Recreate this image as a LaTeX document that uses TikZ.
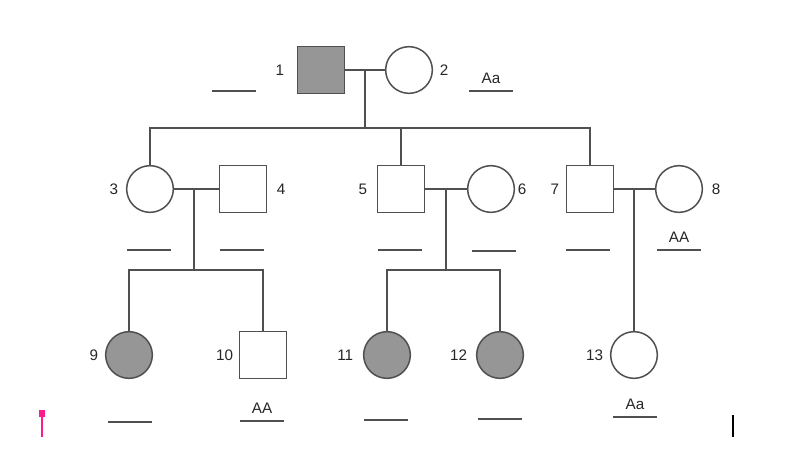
\documentclass[tikz,border=0pt]{standalone}
\usepackage{fontspec}
\setmainfont{Liberation Sans}
\usetikzlibrary{calc,positioning}
\definecolor{linec}{HTML}{505050}
\definecolor{shade}{HTML}{969696}
\definecolor{pinkmark}{HTML}{FF1A8C}
\tikzset{
  person/.style={draw=linec,line width=0.45mm,minimum size=14mm,inner sep=0pt,outer sep=0pt},
  male/.style={person,rectangle,fill=white},
  female/.style={person,circle,fill=white},
  aff/.style={fill=shade},
  lab/.style={font=\fontsize{13}{15}\selectfont,text=black!85,inner sep=0pt},
  geno/.style={font=\fontsize{13}{15}\selectfont,text=black!85,minimum width=12.9mm,inner xsep=0pt,inner ysep=2.1mm,
    text height=1.6ex,text depth=0pt,anchor=south,
    append after command={(\tikzlastnode.south west) edge[draw=linec,line width=0.45mm] (\tikzlastnode.south east)}},
  link/.style={draw=linec,line width=0.45mm}
}
\begin{document}
\begin{tikzpicture}[x=0.3mm,y=-0.3mm]
\useasboundingbox (0,0) rectangle (800,454);
% generation I
\node[male,aff,label={[lab,label distance=4mm]left:1}] (n1) at (321,70) {};
\node[female,label={[lab,label distance=2.2mm]right:2}] (n2) at (409,70) {};
% generation II
\node[female,label={[lab,label distance=2.5mm]left:3}] (n3) at (150,189) {};
\node[male,label={[lab,label distance=3.1mm]right:4}] (n4) at (243,189) {};
\node[male,label={[lab,label distance=3.1mm]left:5}] (n5) at (401,189) {};
\node[female,label={[lab,label distance=1mm]right:6}] (n6) at (491,189) {};
\node[male,label={[lab,label distance=2.2mm]left:7}] (n7) at (590,189) {};
\node[female,label={[lab,label distance=2.8mm]right:8}] (n8) at (679,189) {};
% generation III
\node[female,aff,label={[lab,label distance=2.2mm]left:9}] (n9) at (129,355) {};
\node[male,label={[lab,label distance=1.9mm]left:10}] (n10) at (263,355) {};
\node[female,aff,label={[lab,label distance=3.1mm]left:11}] (n11) at (387,355) {};
\node[female,aff,label={[lab,label distance=2.8mm]left:12}] (n12) at (500,355) {};
\node[female,label={[lab,label distance=2.2mm]left:13}] (n13) at (634,355) {};
% genotype blanks
\node[geno] (g1) at (234,91) {};
\node[geno] (g2) at (491,91) {Aa};
\node[geno] (g3) at (149,250) {};
\node[geno] (g4) at (242,250) {};
\node[geno] (g5) at (400,250) {};
\node[geno] (g6) at (494,251) {};
\node[geno] (g7) at (588,250) {};
\node[geno] (g8) at (679,250) {AA};
\node[geno] (g9) at (130,422) {};
\node[geno] (g10) at (262,421) {AA};
\node[geno] (g11) at (386,420) {};
\node[geno] (g12) at (500,419) {};
\node[geno] (g13) at (635,417) {Aa};
% matings and descent
\coordinate (m12) at ($(n1.east)!0.5!(n2.west)$);
\coordinate (m34) at ($(n3.east)!0.45!(n4.west)$);
\coordinate (m56) at ($(n5.east)!0.5!(n6.west)$);
\coordinate (m78) at (n13.north |- n7.east);
\coordinate (s12) at (m12 |- 0,128);
\coordinate (s34) at (m34 |- 0,270);
\coordinate (s56) at (m56 |- 0,270);
\draw[link] (n1) -- (n2);
\draw[link] (n3) -- (n4);
\draw[link] (n5) -- (n6);
\draw[link] (n7) -- (n8);
\draw[link] (m12) -- (s12);
\draw[link] (n3.north) |- (s12) -| (n7.north);
\draw[link] (n5.north) -- (n5.north |- s12);
\draw[link] (m34) -- (s34);
\draw[link] (n9.north) |- (s34) -| (n10.north);
\draw[link] (m56) -- (s56);
\draw[link] (n11.north) |- (s56) -| (n12.north);
\draw[link] (m78) -- (n13.north);
% stray marks
\draw[pinkmark,line width=0.6mm] (42,414) -- (42,437);
\fill[pinkmark] (39,410) rectangle (45,417);
\draw[black,line width=0.6mm] (733,415) -- (733,437);
\end{tikzpicture}
\end{document}
